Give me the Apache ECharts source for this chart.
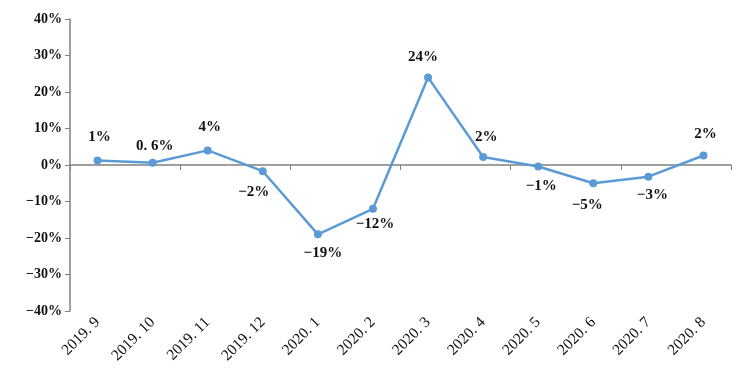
<!DOCTYPE html>
<html><head><meta charset="utf-8">
<script src="https://cdn.jsdelivr.net/npm/echarts@6/dist/echarts.min.js"></script>
<style>html,body{margin:0;padding:0;background:#fff}#c{width:750px;height:380px}</style>
</head><body><div id="c"></div>
<script>
var categories = ['2019. 9','2019. 10','2019. 11','2019. 12','2020. 1','2020. 2','2020. 3','2020. 4','2020. 5','2020. 6','2020. 7','2020. 8'];
var values = [1.2, 0.6, 4.0, -1.7, -19.0, -12.0, 24.0, 2.2, -0.4, -5.0, -3.2, 2.6];
var labelTexts = ['1%','0. 6%','4%','−2%','−19%','−12%','24%','2%','−1%','−5%','−3%','2%'];
var yTicks = [-40,-30,-20,-10,0,10,20,30,40];

// label placement (styling only): offset of each value label from its point
var labelOffsets = [[2,-23],[2,-17],[2,-23],[-9,21],[5,19],[2,15],[-5,-20],[3,-20],[3,20],[-6,22],[4,18],[2,-21]];

var FONT = '"Liberation Serif","DejaVu Serif",serif';
var chart = echarts.init(document.getElementById('c'));
var data = values.map(function(v,i){
  return {value: v, label: {formatter: labelTexts[i], position: 'inside', offset: labelOffsets[i]}};
});
chart.setOption({
  animation: false,
  grid: {left: 70, right: 19, top: 19, bottom: 69},
  xAxis: [{
    type: 'category', data: categories, position: 'bottom',
    axisLine: {show: false, onZero: false}, axisTick: {show: false},
    axisLabel: {rotate: 45, margin: 9, color: '#111', fontFamily: FONT, fontSize: 15.5, interval: 0}
  },{
    type: 'category', data: categories, position: 'top',
    axisLine: {onZero: true, lineStyle: {color: '#808080', width: 1.5}},
    axisTick: {show: true, inside: true, length: 5, lineStyle: {color: '#808080'}},
    axisLabel: {show: false}
  }],
  yAxis: {
    type: 'value', min: yTicks[0], max: yTicks[yTicks.length-1], interval: 10,
    splitLine: {show: false},
    axisLine: {show: true, lineStyle: {color: '#808080', width: 1.5}},
    axisTick: {show: true, length: 5, lineStyle: {color: '#808080'}},
    axisLabel: {color: '#111', fontFamily: FONT, fontSize: 14, fontWeight: 'bold', margin: 8,
      formatter: function(v){ return (v < 0 ? '−' + Math.abs(v) : v) + '%'; }}
  },
  series: [{
    type: 'line', data: data, xAxisIndex: 0,
    symbol: 'circle', symbolSize: 8,
    lineStyle: {color: '#5B9BD5', width: 2.5},
    itemStyle: {color: '#5B9BD5'},
    label: {show: true, color: '#111', fontFamily: FONT, fontSize: 15, fontWeight: 'bold'}
  }]
});
</script></body></html>
